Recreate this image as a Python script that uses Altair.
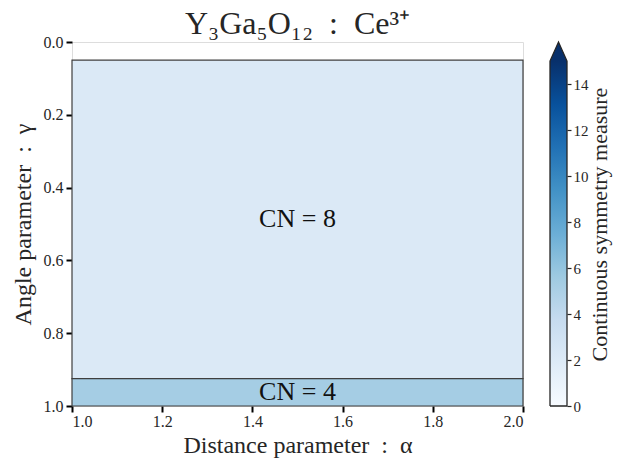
import altair as alt
import pandas as pd

# Regions of the (alpha, gamma) parameter plane with their coordination number
alpha_min = [1.0, 1.0]
alpha_max = [2.0, 2.0]
gamma_lo = [0.05, 0.925]
gamma_hi = [0.925, 1.0]
csm_values = [2.1, 5.3]
cn_values = [8, 4]

x_ticks = [1.0, 1.2, 1.4, 1.6, 1.8, 2.0]
y_ticks = [0.0, 0.2, 0.4, 0.6, 0.8, 1.0]
cbar_ticks = [0, 2, 4, 6, 8, 10, 12, 14]
csm_max = 15
cbar_tip = 15.83  # top of the "extend max" arrow

BLUES = ["#f7fbff", "#deebf7", "#c6dbef", "#9ecae1", "#6baed6",
         "#4292c6", "#2171b5", "#08519c", "#08306b"]
blues_domain = [csm_max * i / (len(BLUES) - 1) for i in range(len(BLUES))]

FONT = "Liberation Serif"
INK = "#262626"

regions = pd.DataFrame({
    "a0": alpha_min, "a1": alpha_max,
    "g0": gamma_lo, "g1": gamma_hi,
    "csm": csm_values,
    "label": [f"CN = {c}" for c in cn_values],
})
regions["amid"] = (regions["a0"] + regions["a1"]) / 2
regions["gmid"] = (regions["g0"] + regions["g1"]) / 2

xscale = alt.Scale(domain=[1.0, 2.0], nice=False, zero=False)
yscale = alt.Scale(domain=[0.0, 1.0], reverse=True, nice=False, zero=False)
color_scale = alt.Scale(domain=blues_domain, range=BLUES, clamp=True)

axis_common = dict(
    format=".1f", grid=False, domain=False,
    tickSize=6, tickWidth=2, tickColor="black",
    labelFont=FONT, labelFontSize=16, labelColor=INK,
    titleFont=FONT, titleFontSize=24, titleFontWeight="normal", titleColor=INK,
)

rects = alt.Chart(regions).mark_rect(stroke="#3f3f3f", strokeWidth=1.2).encode(
    x=alt.X("a0:Q", scale=xscale,
            axis=alt.Axis(values=x_ticks, title="Distance parameter\u2002:\u2002\u03b1",
                          labelPadding=1, titlePadding=4, **axis_common)),
    x2="a1:Q",
    y=alt.Y("g0:Q", scale=yscale,
            axis=alt.Axis(values=y_ticks, title="Angle parameter\u2002:\u2002\u03b3",
                          labelPadding=3, titlePadding=8, **axis_common)),
    y2="g1:Q",
    color=alt.Color("csm:Q", scale=color_scale, legend=None),
)

labels = alt.Chart(regions).mark_text(
    font=FONT, fontSize=26, color="#111111", baseline="middle"
).encode(
    x=alt.X("amid:Q", scale=xscale),
    y=alt.Y("gmid:Q", scale=yscale),
    text="label:N",
)

main = alt.layer(rects, labels).properties(
    width=451, height=364,
    title=alt.Title("Y\u2083Ga\u2085O\u2081\u2082\u2002:\u2002Ce\u00b3\u207a", font=FONT, fontSize=32,
                    fontWeight="normal", color=INK, offset=-7),
)

# Colorbar: gradient body, extension arrow and outline
cx = alt.Scale(domain=[0, 1], nice=False, zero=False)
cy = alt.Scale(domain=[0, cbar_tip], nice=False, zero=False)

body = alt.Chart(pd.DataFrame({"x0": [0], "x1": [1], "v0": [0], "v1": [csm_max]})).mark_rect(
    color=alt.Gradient(
        gradient="linear", x1=0, x2=0, y1=1, y2=0,
        stops=[alt.GradientStop(color=c, offset=i / (len(BLUES) - 1)) for i, c in enumerate(BLUES)],
    )
).encode(
    x=alt.X("x0:Q", scale=cx, axis=None), x2="x1:Q",
    y=alt.Y("v0:Q", scale=cy,
            axis=alt.Axis(orient="right", values=cbar_ticks, grid=False, domain=False,
                          tickSize=4, tickWidth=1.2, tickColor=INK,
                          labelFont=FONT, labelFontSize=15, labelColor=INK, labelPadding=2,
                          title="Continuous symmetry measure", titleAngle=270,
                          titleBaseline="top",
                          titleFont=FONT, titleFontSize=22, titleFontWeight="normal",
                          titleColor=INK, titlePadding=1)),
    y2="v1:Q",
)

arrow_df = pd.DataFrame({"x": [0, 0.5, 1], "y": [csm_max, cbar_tip, csm_max], "y2": [csm_max] * 3})
arrow = alt.Chart(arrow_df).mark_area(color=BLUES[-1], orient="vertical").encode(
    x=alt.X("x:Q", scale=cx), y=alt.Y("y:Q", scale=cy), y2="y2:Q",
)

outline_df = pd.DataFrame({
    "x": [0, 1, 1, 0.5, 0, 0],
    "y": [0, 0, csm_max, cbar_tip, csm_max, 0],
    "o": list(range(6)),
})
outline = alt.Chart(outline_df).mark_line(color=INK, strokeWidth=1.3).encode(
    x=alt.X("x:Q", scale=cx), y=alt.Y("y:Q", scale=cy), order="o:Q",
)

cbar = alt.layer(body, arrow, outline).properties(
    width=17, height=364, view=alt.ViewBackground(strokeOpacity=0)
)

chart = alt.hconcat(main, cbar, spacing=27, bounds="flush").properties(
    padding={"left": 10, "top": 7, "right": 5, "bottom": 5}
).configure_view(
    stroke=INK, strokeWidth=1.5
).configure_axis(
    labelFont=FONT, titleFont=FONT
).configure(
    font=FONT,
    style={"guide-label": {"font": FONT}, "guide-title": {"font": FONT}},
)

chart.save("out.html", embed_options={"renderer": "svg", "actions": False})
